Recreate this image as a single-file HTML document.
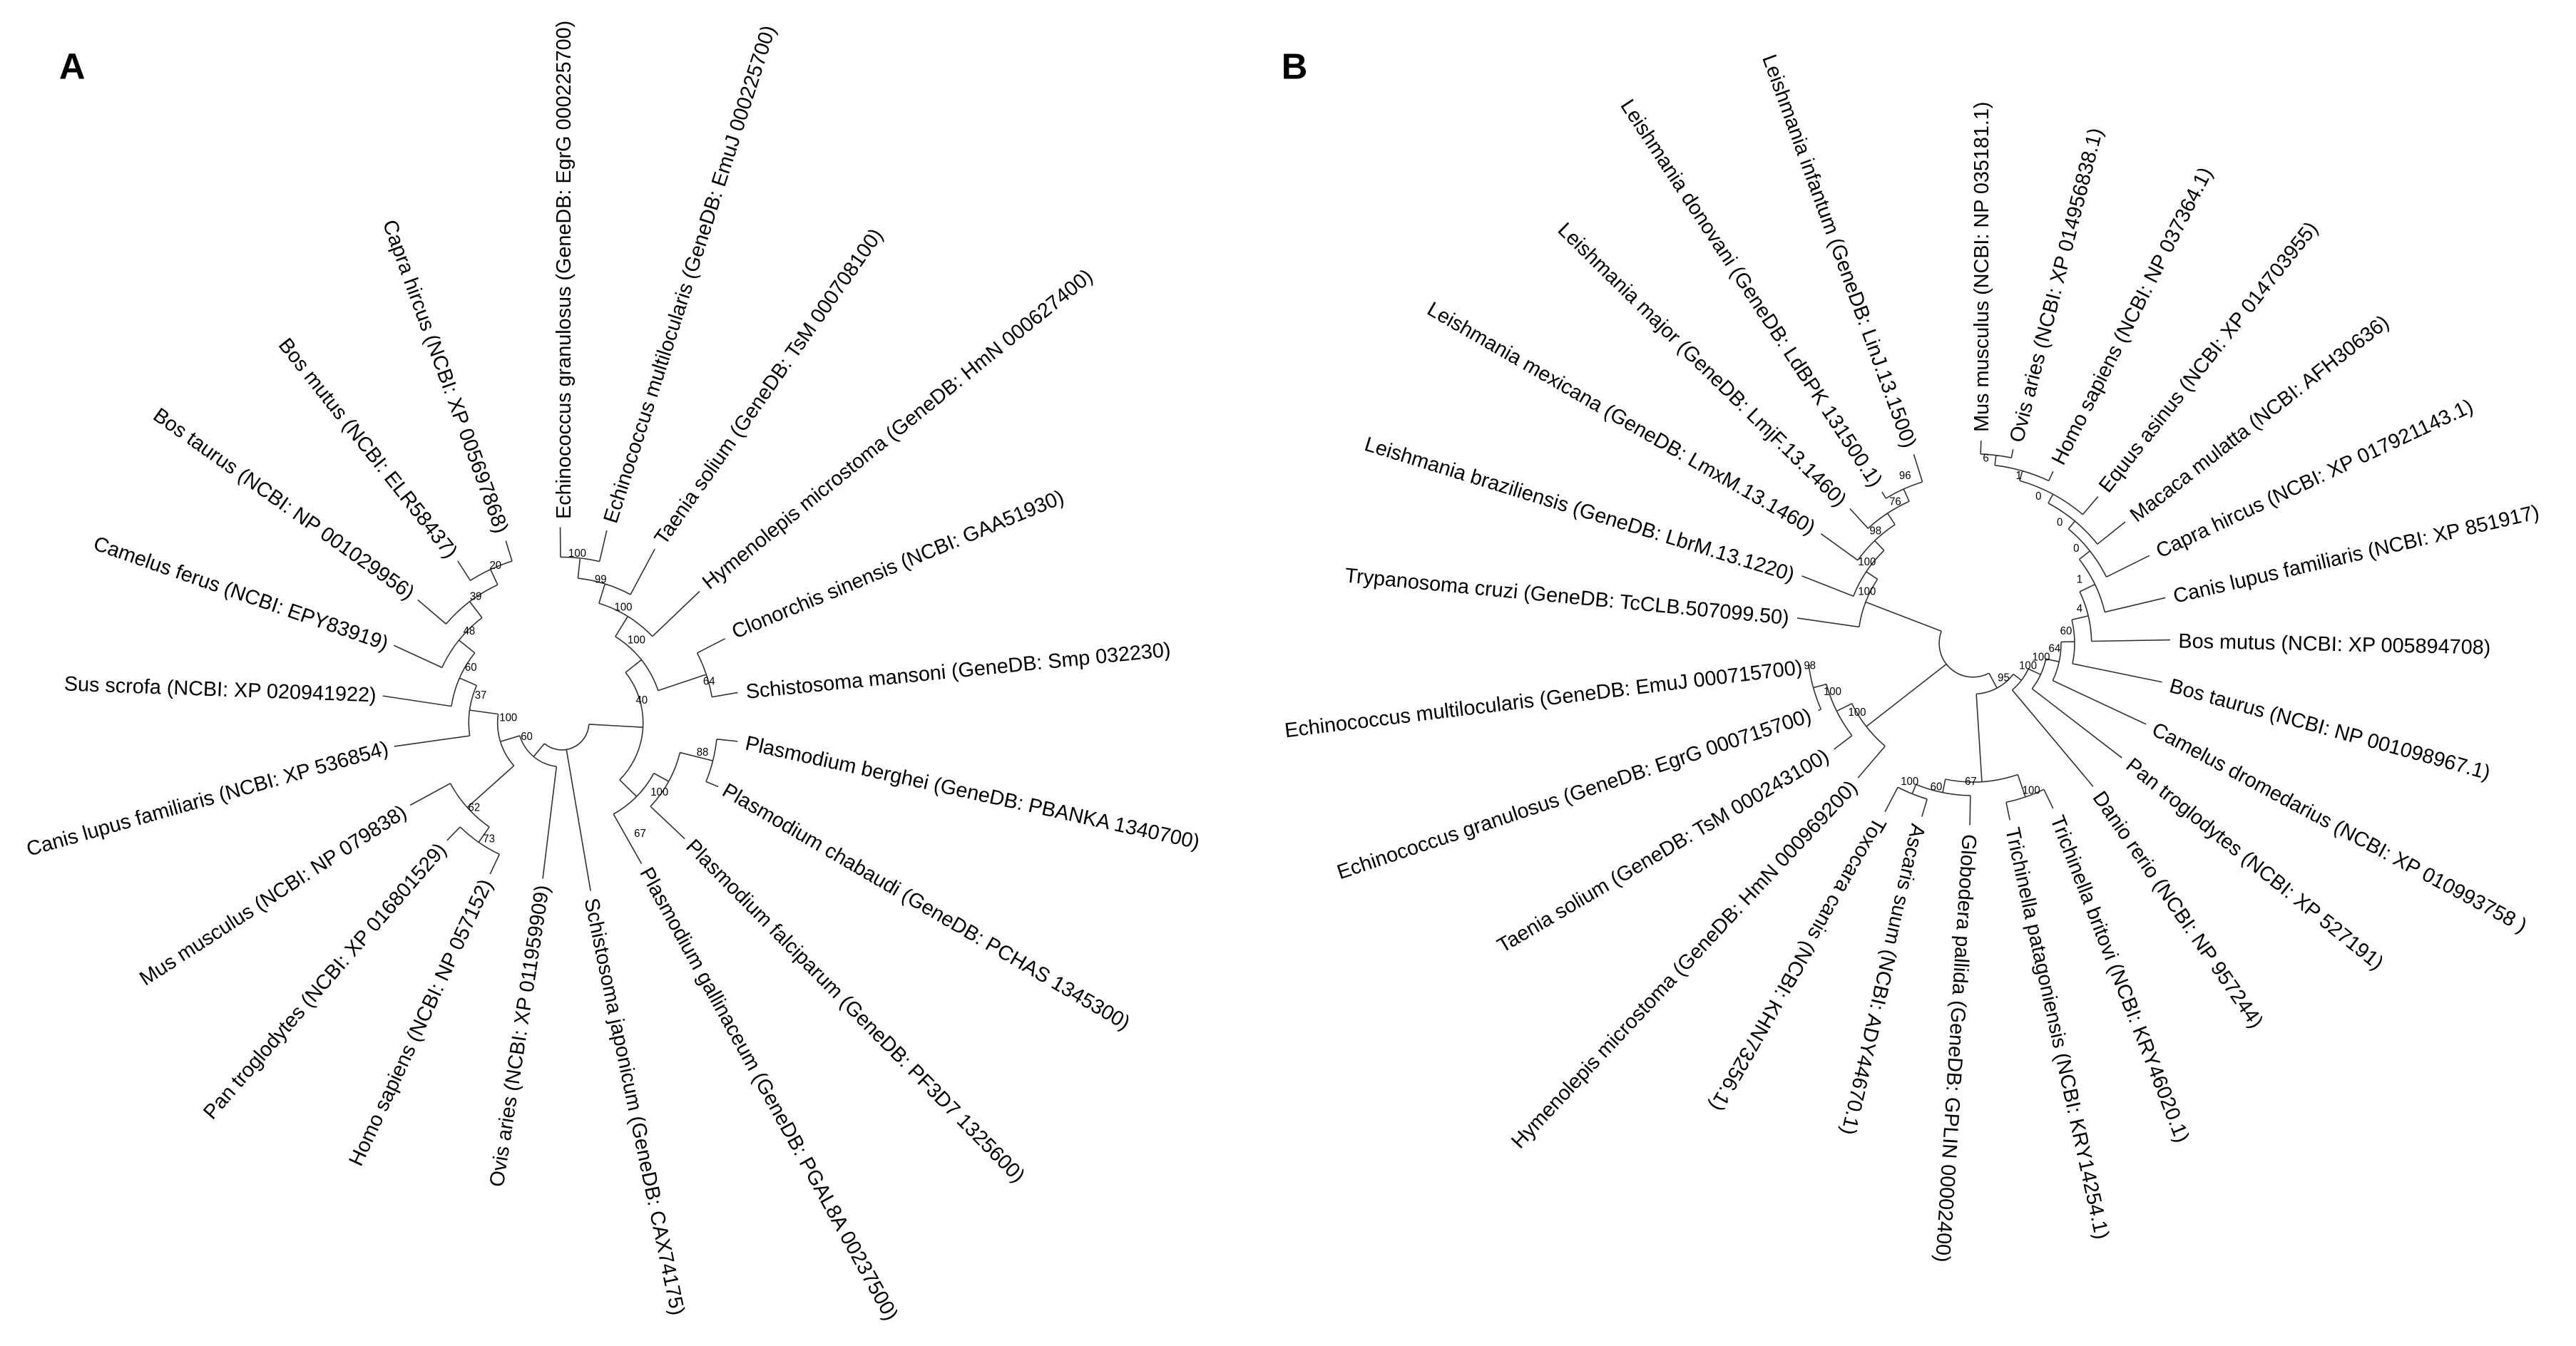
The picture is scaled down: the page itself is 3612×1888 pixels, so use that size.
<!DOCTYPE html>
<html><head><meta charset="utf-8"><style>
html,body{margin:0;padding:0;background:#fff}
svg{display:block}
text{font-family:"Liberation Sans",Arial,sans-serif;fill:#000}
.b{font-family:"Liberation Serif",serif;font-size:6.5px;fill:#222}
</style></head><body>
<svg id="s" xmlns="http://www.w3.org/2000/svg" width="3612" height="1888" viewBox="0 0 1568 819.6">
<rect width="1568" height="820" fill="#fff"/>
<text x="36" y="48" style="font-weight:bold;font-size:22px">A</text>
<text x="780" y="48" style="font-weight:bold;font-size:22px">B</text>
<g id="lines" fill="none" stroke="#333" stroke-width="0.7"></g>
<g font-size="12.5">
<!-- Tree A right -->
<text x="343" y="316" dy=".35em" transform="rotate(-90 343 316)">Echinococcus granulosus (GeneDB: EgrG 000225700)</text>
<text x="371" y="318" dy=".35em" transform="rotate(-72.2 371 318)">Echinococcus multilocularis (GeneDB: EmuJ 000225700)</text>
<text x="401" y="330" dy=".35em" transform="rotate(-54.9 401 330)">Taenia solium (GeneDB: TsM 000708100)</text>
<text x="429" y="356" dy=".35em" transform="rotate(-39 429 356)">Hymenolepis microstoma (GeneDB: HmN 000627400)</text>
<text x="446" y="385" dy=".35em" transform="rotate(-22.5 446 385)">Clonorchis sinensis (NCBI: GAA51930)</text>
<text x="454" y="421" dy=".35em" transform="rotate(-5.7 454 421)">Schistosoma mansoni (GeneDB: Smp 032230)</text>
<text x="454" y="452" dy=".35em" transform="rotate(12.4 454 452)">Plasmodium berghei (GeneDB: PBANKA 1340700)</text>
<text x="441" y="480" dy=".35em" transform="rotate(30.3 441 480)">Plasmodium chabaudi (GeneDB: PCHAS 1345300)</text>
<text x="420" y="513" dy=".35em" transform="rotate(45.4 420 513)">Plasmodium falciparum (GeneDB: PF3D7 1325600)</text>
<text x="393" y="529" dy=".35em" transform="rotate(61.2 393 529)">Plasmodium gallinaceum (GeneDB: PGAL8A 00237500)</text>
<text x="360" y="547" dy=".35em" transform="rotate(78.2 360 547)">Schistosoma japonicum (GeneDB: CAX74175)</text>
<!-- Tree A left -->
<text x="330" y="539" dy=".35em" text-anchor="end" transform="rotate(-81.3 330 539)">Ovis aries (NCBI: XP 011959909)</text>
<text x="296" y="536" dy=".35em" text-anchor="end" transform="rotate(-65.1 296 536)">Homo sapiens (NCBI: NP 057152)</text>
<text x="269" y="515" dy=".35em" text-anchor="end" transform="rotate(-49 269 515)">Pan troglodytes (NCBI: XP 016801529)</text>
<text x="246" y="493" dy=".35em" text-anchor="end" transform="rotate(-33 246 493)">Mus musculus (NCBI: NP 079838)</text>
<text x="236" y="455" dy=".35em" text-anchor="end" transform="rotate(-15.8 236 455)">Canis lupus familiaris (NCBI: XP 536854)</text>
<text x="229" y="423" dy=".35em" text-anchor="end" transform="rotate(2.1 229 423)">Sus scrofa (NCBI: XP 020941922)</text>
<text x="236" y="392" dy=".35em" text-anchor="end" transform="rotate(19.1 236 392)">Camelus ferus (NCBI: EPY83919)</text>
<text x="251" y="362" dy=".35em" text-anchor="end" transform="rotate(35.4 251 362)">Bos taurus (NCBI: NP 001029956)</text>
<text x="276" y="338" dy=".35em" text-anchor="end" transform="rotate(51.6 276 338)">Bos mutus (NCBI: ELR58437)</text>
<text x="306" y="324" dy=".35em" text-anchor="end" transform="rotate(70 306 324)">Capra hircus (NCBI: XP 005697868)</text>
<!-- Tree B right -->
<text x="1206" y="263" dy=".35em" transform="rotate(-90 1206 263)">Mus musculus (NCBI: NP 035181.1)</text>
<text x="1227" y="269" dy=".35em" transform="rotate(-75.7 1227 269)">Ovis aries (NCBI: XP 014956838.1)</text>
<text x="1252" y="282" dy=".35em" transform="rotate(-63.1 1252 282)">Homo sapiens (NCBI: NP 037364.1)</text>
<text x="1280" y="298" dy=".35em" transform="rotate(-51.6 1280 298)">Equus asinus (NCBI: XP 014703955)</text>
<text x="1298" y="315" dy=".35em" transform="rotate(-38 1298 315)">Macaca mulatta (NCBI: AFH30636)</text>
<text x="1313" y="336" dy=".35em" transform="rotate(-25.1 1313 336)">Capra hircus (NCBI: XP 017921143.1)</text>
<text x="1323" y="363" dy=".35em" transform="rotate(-13.1 1323 363)">Canis lupus familiaris (NCBI: XP 851917)</text>
<text x="1326" y="390" dy=".35em" transform="rotate(1.2 1326 390)">Bos mutus (NCBI: XP 005894708)</text>
<text x="1321" y="417" dy=".35em" transform="rotate(15.4 1321 417)">Bos taurus (NCBI: NP 001098967.1)</text>
<text x="1311" y="443" dy=".35em" transform="rotate(28.2 1311 443)">Camelus dromedarius (NCBI: XP 010993758 )</text>
<text x="1296" y="464" dy=".35em" transform="rotate(38.9 1296 464)">Pan troglodytes (NCBI: XP 527191)</text>
<text x="1277" y="483" dy=".35em" transform="rotate(55.3 1277 483)">Danio rerio (NCBI: NP 957244)</text>
<text x="1252" y="497" dy=".35em" transform="rotate(68.7 1252 497)">Trichinella britovi (NCBI: KRY46020.1)</text>
<text x="1225" y="504" dy=".35em" transform="rotate(77.6 1225 504)">Trichinella patagoniensis (NCBI: KRY14254.1)</text>
<text x="1199" y="508" dy=".35em" transform="rotate(93.6 1199 508)">Globodera pallida (GeneDB: GPLIN 00002400)</text>
<text x="1168" y="502" dy=".35em" transform="rotate(102.8 1168 502)">Ascaris suum (NCBI: ADY44670.1)</text>
<text x="1145" y="499" dy=".35em" transform="rotate(119.7 1145 499)">Toxocara canis (NCBI: KHN73256.1)</text>
<!-- Tree B left -->
<text x="1128" y="477" dy=".35em" text-anchor="end" transform="rotate(-46.9 1128 477)">Hymenolepis microstoma (GeneDB: HmN 000969200)</text>
<text x="1112" y="459" dy=".35em" text-anchor="end" transform="rotate(-30.5 1112 459)">Taenia solium (GeneDB: TsM 000243100)</text>
<text x="1102" y="435" dy=".35em" text-anchor="end" transform="rotate(-18.5 1102 435)">Echinococcus granulosus (GeneDB: EgrG 000715700)</text>
<text x="1097" y="406" dy=".35em" text-anchor="end" transform="rotate(-7 1097 406)">Echinococcus multilocularis (GeneDB: EmuJ 000715700)</text>
<text x="1089" y="376" dy=".35em" text-anchor="end" transform="rotate(5.5 1089 376)">Trypanosoma cruzi (GeneDB: TcCLB.507099.50)</text>
<text x="1092" y="350" dy=".35em" text-anchor="end" transform="rotate(17.1 1092 350)">Leishmania braziliensis (GeneDB: LbrM.13.1220)</text>
<text x="1104" y="322" dy=".35em" text-anchor="end" transform="rotate(30 1104 322)">Leishmania mexicana (GeneDB: LmxM.13.1460)</text>
<text x="1122" y="306" dy=".35em" text-anchor="end" transform="rotate(44.5 1122 306)">Leishmania major (GeneDB: LmjF.13.1460)</text>
<text x="1143" y="295" dy=".35em" text-anchor="end" transform="rotate(56.7 1143 295)">Leishmania donovani (GeneDB: LdBPK 131500.1)</text>
<text x="1163" y="272" dy=".35em" text-anchor="end" transform="rotate(70.1 1163 272)">Leishmania infantum (GeneDB: LinJ.13.1500)</text>
</g>
<g class="b" transform="scale(1,1.053)">
<text x="346" y="322">100</text><text x="362" y="337">99</text><text x="374" y="353">100</text>
<text x="382" y="372">100</text><text x="428" y="396">64</text><text x="387" y="407">40</text>
<text x="424" y="437">88</text><text x="396" y="460">100</text><text x="386" y="484">67</text>
<text x="298" y="329">20</text><text x="286" y="347">39</text><text x="282" y="367">48</text>
<text x="283" y="388">60</text><text x="289" y="404">37</text><text x="304" y="417">100</text>
<text x="317" y="428">60</text><text x="285" y="469">62</text><text x="294" y="487">73</text>
<text x="1156" y="277">96</text><text x="1150" y="292">76</text><text x="1138" y="309">98</text>
<text x="1131" y="327">100</text><text x="1131" y="344">100</text><text x="1098" y="387">98</text>
<text x="1110" y="402">100</text><text x="1125" y="414">100</text>
<text x="1207" y="267">6</text><text x="1227" y="277">1</text><text x="1239" y="289">0</text>
<text x="1252" y="304">0</text><text x="1262" y="319">0</text><text x="1264" y="337">1</text>
<text x="1264" y="354">4</text><text x="1254" y="367">60</text><text x="1247" y="377">64</text>
<text x="1237" y="382">100</text><text x="1229" y="387">100</text><text x="1216" y="394">95</text>
<text x="1196" y="454">67</text><text x="1175" y="457">60</text><text x="1157" y="454">100</text>
<text x="1231" y="459">100</text>
</g>
</svg>
<script>
(function(){
var g=document.getElementById('lines'),out='',K=1.053;
function P(cx,cy,r,t){return [cx+r*Math.cos(t*Math.PI/180),cy+r*Math.sin(t*Math.PI/180)];}
function ang(cx,cy,p){var a=Math.atan2(p[1]-cy,p[0]-cx)*180/Math.PI;if(a<-100)a+=360;return a;}
function L(a,b){out+='M'+a[0].toFixed(2)+' '+a[1].toFixed(2)+'L'+b[0].toFixed(2)+' '+b[1].toFixed(2);}
function A(cx,cy,r,t1,t2){var a=P(cx,cy,r,t1),b=P(cx,cy,r,t2);out+='M'+a[0].toFixed(2)+' '+a[1].toFixed(2)+'A'+r+' '+r+' 0 '+((t2-t1)>180?1:0)+' 1 '+b[0].toFixed(2)+' '+b[1].toFixed(2);}
function lay(cx,cy,n){
 if(Array.isArray(n)){var p=[n[0],n[1]*K];var d=Math.hypot(p[0]-cx,p[1]-cy);return {t:ang(cx,cy,p),r:d-3};}
 var ch=n.c.map(function(c){return lay(cx,cy,c);});
 var ts=ch.map(function(c){return c.t;});var mn=Math.min.apply(null,ts),mx=Math.max.apply(null,ts);
 var r=n.r*1.03;
 A(cx,cy,r,mn,mx);
 ch.forEach(function(c){L(P(cx,cy,r,c.t),P(cx,cy,c.r,c.t));});
 return {t:(mn+mx)/2,r:r};
}
function N(r,c){return {r:r,c:c};}
var ax=342,ay=418*K;
var flat=N(60,[N(74,[N(86,[N(98,[[341,302],[370,304]]),[400,315]]),[428,340]]),N(90,[[444,368],[452,400]])]);
var plas=N(62,[N(72,[N(92,[[452,429],[440,456]]),[419,487]]),[392,502]]);
var bov=N(55,[N(66,[N(78,[N(90,[N(100,[[307,310],[277,322]]),[252,345]]),[237,372]]),[230,402]]),[237,432]]);
var prim=N(75,[[247,467],N(86,[[270,488],[297,508]])]);
var mam=N(26,[N(38,[bov,prim]),[330,511]]);
lay(ax,ay,N(16,[N(48,[flat,plas]),[360,518],mam]));
var bx=1201,by=372*K;
var kin=N(68,[N(76,[N(84,[N(92,[N(100,[[1164,260],[1144,282]]),[1124,292]]),[1106,307]]),[1094,332]]),[1091,357]]);
var ces=N(80,[N(90,[N(98,[[1099,385],[1104,412]]),[1114,435]]),[1129,452]]);
var mch=N(112,[[1206,252],[1226,257]]);
mch=N(106,[mch,[1251,270]]);mch=N(100,[mch,[1279,285]]);mch=N(94,[mch,[1296,300]]);
mch=N(88,[mch,[1311,320]]);mch=N(80,[mch,[1321,345]]);mch=N(70,[mch,[1324,370]]);
mch=N(60,[mch,[1319,395]]);mch=N(52,[mch,[1309,420]]);mch=N(44,[mch,[1294,440]]);mch=N(36,[mch,[1276,457]]);
var nem=N(82,[N(90,[N(96,[[1146,472],[1169,475]]),[1199,480]]),N(96,[[1224,477],[1251,470]])]);
lay(bx,by,N(20,[N(30,[mch,nem]),ces,kin]));
g.innerHTML='<path d="'+out+'"/>';
})();
</script>
</body></html>
